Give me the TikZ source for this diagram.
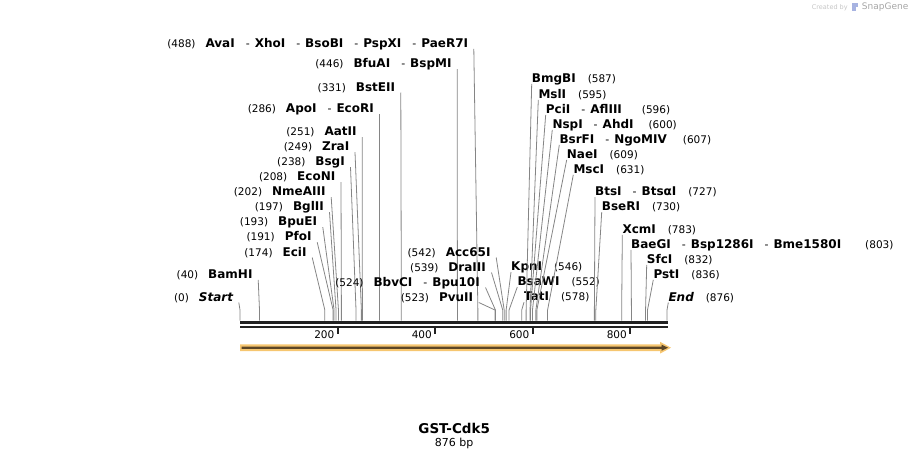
\documentclass[tikz,border=0pt]{standalone}
\usepackage{fontspec}
\setmainfont{DejaVu Sans}
\definecolor{gsCut}{gray}{0.52}
\definecolor{gsBone}{gray}{0.13}
\definecolor{gsFeatOut}{RGB}{246,198,112}
\definecolor{gsFeatIn}{RGB}{92,70,38}
\newcommand{\gsNum}[1]{{\fontsize{10.5pt}{12pt}\selectfont(#1)}}
\newcommand{\gsName}[1]{{\fontsize{12pt}{14pt}\selectfont\bfseries #1}}
\newcommand{\gsSep}{\hspace{11pt}{\fontsize{11pt}{12pt}\selectfont-}\hspace{5pt}}
\newcommand{\gsLeft}[2]{\gsNum{#1}\hspace{10pt}#2}
\newcommand{\gsRight}[3][12pt]{#3\hspace{#1}\gsNum{#2}}

\begin{document}
\begin{tikzpicture}[x=1pt,y=-1pt,
  lbl/.style={inner sep=0pt, anchor=base east},
  rbl/.style={inner sep=0pt, anchor=base west},
  cut/.style={draw=gsCut, line width=0.8pt},
  ticklbl/.style={inner sep=0pt, anchor=base east, font=\fontsize{10.5pt}{12pt}\selectfont}]
\useasboundingbox (0,0) rectangle (909,460);
\coordinate (knee) at (0,310);
% cut sites on the backbone
\coordinate (s0) at (240,320.5);
\coordinate (s40) at (259.5,320.5);
\coordinate (s174) at (324.82,320.5);
\coordinate (s191) at (333.1,320.5);
\coordinate (s193) at (334.08,320.5);
\coordinate (s197) at (336.03,320.5);
\coordinate (s202) at (338.46,320.5);
\coordinate (s208) at (341.39,320.5);
\coordinate (s238) at (356.01,320.5);
\coordinate (s249) at (361.37,320.5);
\coordinate (s251) at (362.35,320.5);
\coordinate (s286) at (379.41,320.5);
\coordinate (s331) at (401.34,320.5);
\coordinate (s446) at (457.4,320.5);
\coordinate (s488) at (477.87,320.5);
\coordinate (s523) at (494.93,320.5);
\coordinate (s524) at (495.42,320.5);
\coordinate (s539) at (502.73,320.5);
\coordinate (s542) at (504.19,320.5);
\coordinate (s546) at (506.14,320.5);
\coordinate (s552) at (509.07,320.5);
\coordinate (s578) at (521.74,320.5);
\coordinate (s587) at (526.13,320.5);
\coordinate (s595) at (530.03,320.5);
\coordinate (s596) at (530.52,320.5);
\coordinate (s600) at (532.47,320.5);
\coordinate (s607) at (535.88,320.5);
\coordinate (s609) at (536.85,320.5);
\coordinate (s631) at (547.58,320.5);
\coordinate (s727) at (594.37,320.5);
\coordinate (s730) at (595.83,320.5);
\coordinate (s783) at (621.67,320.5);
\coordinate (s803) at (631.42,320.5);
\coordinate (s832) at (645.55,320.5);
\coordinate (s836) at (647.5,320.5);
\coordinate (s876) at (667,320.5);
% labels left of their lines
\node[lbl] (AvaI) at (468.3,47.3) {\gsLeft{488}{\gsName{AvaI}\gsSep\gsName{XhoI}\gsSep\gsName{BsoBI}\gsSep\gsName{PspXI}\gsSep\gsName{PaeR7I}}};
\draw[cut] ([xshift=5.5pt,yshift=-1.5pt]AvaI.base east) -- (s488 |- knee) -- (s488);
\node[lbl] (BfuAI) at (451.7,67.7) {\gsLeft{446}{\gsName{BfuAI}\gsSep\gsName{BspMI}}};
\draw[cut] ([xshift=5.5pt,yshift=-1.5pt]BfuAI.base east) -- (s446 |- knee) -- (s446);
\node[lbl] (BstEII) at (395.3,91) {\gsLeft{331}{\gsName{BstEII}}};
\draw[cut] ([xshift=5.5pt,yshift=-1.5pt]BstEII.base east) -- (s331 |- knee) -- (s331);
\node[lbl] (ApoI) at (374,112.7) {\gsLeft{286}{\gsName{ApoI}\gsSep\gsName{EcoRI}}};
\draw[cut] ([xshift=5.5pt,yshift=-1.5pt]ApoI.base east) -- (s286 |- knee) -- (s286);
\node[lbl] (AatII) at (356.8,135.7) {\gsLeft{251}{\gsName{AatII}}};
\draw[cut] ([xshift=5.5pt,yshift=-1.5pt]AatII.base east) -- (s251 |- knee) -- (s251);
\node[lbl] (ZraI) at (349.5,150.7) {\gsLeft{249}{\gsName{ZraI}}};
\draw[cut] ([xshift=5.5pt,yshift=-1.5pt]ZraI.base east) -- (s249 |- knee) -- (s249);
\node[lbl] (BsgI) at (345,165.7) {\gsLeft{238}{\gsName{BsgI}}};
\draw[cut] ([xshift=5.5pt,yshift=-1.5pt]BsgI.base east) -- (s238 |- knee) -- (s238);
\node[lbl] (EcoNI) at (335.5,180.7) {\gsLeft{208}{\gsName{EcoNI}}};
\draw[cut] ([xshift=5.5pt,yshift=-1.5pt]EcoNI.base east) -- (s208 |- knee) -- (s208);
\node[lbl] (NmeAIII) at (325.7,195.7) {\gsLeft{202}{\gsName{NmeAIII}}};
\draw[cut] ([xshift=5.5pt,yshift=-1.5pt]NmeAIII.base east) -- (s202 |- knee) -- (s202);
\node[lbl] (BglII) at (324,210.7) {\gsLeft{197}{\gsName{BglII}}};
\draw[cut] ([xshift=5.5pt,yshift=-1.5pt]BglII.base east) -- (s197 |- knee) -- (s197);
\node[lbl] (BpuEI) at (317.3,225.7) {\gsLeft{193}{\gsName{BpuEI}}};
\draw[cut] ([xshift=5.5pt,yshift=-1.5pt]BpuEI.base east) -- (s193 |- knee) -- (s193);
\node[lbl] (PfoI) at (311.7,240.7) {\gsLeft{191}{\gsName{PfoI}}};
\draw[cut] ([xshift=5.5pt,yshift=-1.5pt]PfoI.base east) -- (s191 |- knee) -- (s191);
\node[lbl] (EciI) at (306.7,256) {\gsLeft{174}{\gsName{EciI}}};
\draw[cut] ([xshift=5.5pt,yshift=-1.5pt]EciI.base east) -- (s174 |- knee) -- (s174);
\node[lbl] (BamHI) at (252.7,278.3) {\gsLeft{40}{\gsName{BamHI}}};
\draw[cut] ([xshift=5.5pt,yshift=-1.5pt]BamHI.base east) -- (s40 |- knee) -- (s40);
\node[lbl] (Start) at (233.3,301) {\gsLeft{0}{\gsName{\itshape Start}}};
\draw[cut] ([xshift=5.5pt,yshift=-1.5pt]Start.base east) -- (s0 |- knee) -- (s0);
\node[lbl] (Acc65I) at (490.7,256) {\gsLeft{542}{\gsName{Acc65I}}};
\draw[cut] ([xshift=5.5pt,yshift=-1.5pt]Acc65I.base east) -- (s542 |- knee) -- (s542);
\node[lbl] (DraIII) at (486,271) {\gsLeft{539}{\gsName{DraIII}}};
\draw[cut] ([xshift=5.5pt,yshift=-1.5pt]DraIII.base east) -- (s539 |- knee) -- (s539);
\node[lbl] (BbvCI) at (480,286) {\gsLeft{524}{\gsName{BbvCI}\gsSep\gsName{Bpu10I}}};
\draw[cut] ([xshift=5.5pt,yshift=-1.5pt]BbvCI.base east) -- (s524 |- knee) -- (s524);
\node[lbl] (PvuII) at (473.3,301) {\gsLeft{523}{\gsName{PvuII}}};
\draw[cut] ([xshift=5.5pt,yshift=-1.5pt]PvuII.base east) -- (s523 |- knee) -- (s523);
% labels right of their lines
\node[rbl] (KpnI) at (511,270.5) {\gsRight{546}{\gsName{KpnI}}};
\draw[cut] ([yshift=-1.5pt]KpnI.base west) -- (s546 |- knee) -- (s546);
\node[rbl] (BsaWI) at (517.3,285.5) {\gsRight{552}{\gsName{BsaWI}}};
\draw[cut] ([yshift=-1.5pt]BsaWI.base west) -- (s552 |- knee) -- (s552);
\node[rbl] (TatI) at (524,300.7) {\gsRight{578}{\gsName{TatI}}};
\draw[cut] ([yshift=-1.5pt]TatI.base west) -- (s578 |- knee) -- (s578);
\node[rbl] (BmgBI) at (531.7,82.3) {\gsRight{587}{\gsName{BmgBI}}};
\draw[cut] ([yshift=-1.5pt]BmgBI.base west) -- (s587 |- knee) -- (s587);
\node[rbl] (MslI) at (538.3,98.3) {\gsRight{595}{\gsName{MslI}}};
\draw[cut] ([yshift=-1.5pt]MslI.base west) -- (s595 |- knee) -- (s595);
\node[rbl] (PciI) at (545.7,113.3) {\gsRight[20pt]{596}{\gsName{PciI}\gsSep\gsName{AflIII}}};
\draw[cut] ([yshift=-1.5pt]PciI.base west) -- (s596 |- knee) -- (s596);
\node[rbl] (NspI) at (552.3,128.3) {\gsRight[15pt]{600}{\gsName{NspI}\gsSep\gsName{AhdI}}};
\draw[cut] ([yshift=-1.5pt]NspI.base west) -- (s600 |- knee) -- (s600);
\node[rbl] (BsrFI) at (559.3,143.3) {\gsRight[16pt]{607}{\gsName{BsrFI}\gsSep\gsName{NgoMIV}}};
\draw[cut] ([yshift=-1.5pt]BsrFI.base west) -- (s607 |- knee) -- (s607);
\node[rbl] (NaeI) at (566.7,158.3) {\gsRight{609}{\gsName{NaeI}}};
\draw[cut] ([yshift=-1.5pt]NaeI.base west) -- (s609 |- knee) -- (s609);
\node[rbl] (MscI) at (573.3,173.3) {\gsRight{631}{\gsName{MscI}}};
\draw[cut] ([yshift=-1.5pt]MscI.base west) -- (s631 |- knee) -- (s631);
\node[rbl] (BtsI) at (595,195.7) {\gsRight{727}{\gsName{BtsI}\gsSep\gsName{Btsα{}I}}};
\draw[cut] ([yshift=-1.5pt]BtsI.base west) -- (s727 |- knee) -- (s727);
\node[rbl] (BseRI) at (601.7,210.7) {\gsRight{730}{\gsName{BseRI}}};
\draw[cut] ([yshift=-1.5pt]BseRI.base west) -- (s730 |- knee) -- (s730);
\node[rbl] (XcmI) at (622.3,233.3) {\gsRight{783}{\gsName{XcmI}}};
\draw[cut] ([yshift=-1.5pt]XcmI.base west) -- (s783 |- knee) -- (s783);
\node[rbl] (BaeGI) at (631,248.3) {\gsRight[24pt]{803}{\gsName{BaeGI}\gsSep\gsName{Bsp1286I}\gsSep\gsName{Bme1580I}}};
\draw[cut] ([yshift=-1.5pt]BaeGI.base west) -- (s803 |- knee) -- (s803);
\node[rbl] (SfcI) at (646.7,263.3) {\gsRight{832}{\gsName{SfcI}}};
\draw[cut] ([yshift=-1.5pt]SfcI.base west) -- (s832 |- knee) -- (s832);
\node[rbl] (PstI) at (653.3,278.3) {\gsRight{836}{\gsName{PstI}}};
\draw[cut] ([yshift=-1.5pt]PstI.base west) -- (s836 |- knee) -- (s836);
\node[rbl] (End) at (668.3,301) {\gsRight{876}{\gsName{\itshape End}}};
\draw[cut] ([yshift=-1.5pt]End.base west) -- (s876 |- knee) -- (s876);
% backbone and ruler
\draw[gsBone, line width=3pt] (240,322.5) -- (668,322.5);
\draw[gsBone, line width=2pt] (240,326.7) -- (668,326.7);
\draw[gsBone, line width=2pt] (337.5,327) -- (337.5,334.3);
\draw[gsBone, line width=2pt] (435,327) -- (435,334.3);
\draw[gsBone, line width=2pt] (532.5,327) -- (532.5,334.3);
\draw[gsBone, line width=2pt] (630,327) -- (630,334.3);
\node[ticklbl] (t200) at (334.5,338) {200};
\node[ticklbl] (t400) at (432,338) {400};
\node[ticklbl] (t600) at (529.5,338) {600};
\node[ticklbl] (t800) at (627,338) {800};
% GST-Cdk5 feature arrow
\fill[gsFeatOut] (240,344.3) -- (660,344.3) -- (660,341.8) -- (671,347.7) -- (660,353.6) -- (660,351) -- (240,351) -- cycle;
\fill[gsFeatIn] (241.5,346.6) -- (661.5,346.6) -- (661.5,344.6) -- (668,347.7) -- (661.5,350.8) -- (661.5,348.9) -- (241.5,348.9) -- cycle;
% title
\node[anchor=base, inner sep=0pt, font=\fontsize{13.5pt}{15pt}\selectfont\bfseries] (title) at (454.2,433.3) {GST-Cdk5};
\node[anchor=base, inner sep=0pt, font=\fontsize{11pt}{13pt}\selectfont] (length) at (454.2,446.7) {876 bp};
% watermark
\node[anchor=base west, inner sep=0pt, text=gray!45, font=\fontsize{6.5pt}{8pt}\selectfont] (credit) at (811.7,10) {Created by};
\fill[cyan!35!blue!35] (852,3.5) rectangle (855.5,11.5);
\fill[cyan!35!blue!35] (855.5,3.5) rectangle (858,7);
\node[anchor=base west, inner sep=0pt, text=gray!70, font=\fontsize{9pt}{10pt}\selectfont] (brand) at (861.7,10) {SnapGene};
\end{tikzpicture}
\end{document}
